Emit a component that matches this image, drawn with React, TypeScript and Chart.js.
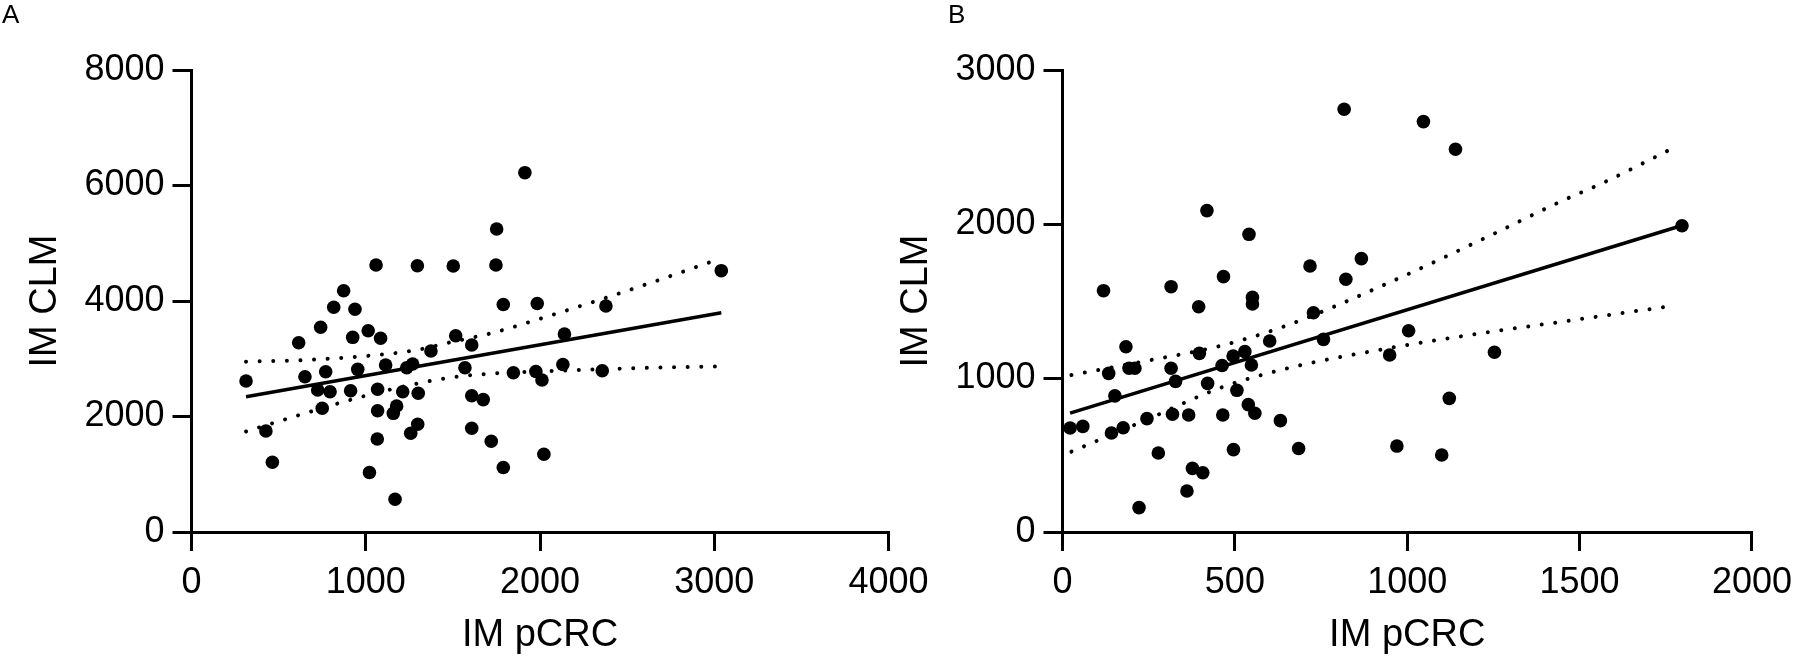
import React, { useEffect, useRef } from "react";
import Chart from "chart.js/auto";

// Panel A — IM pCRC (x) vs IM CLM (y)
const aPcrc = [
  1059, 1296, 1502, 873, 816, 938, 741, 1014, 925, 1085, 615, 1516, 1608, 1374, 313,
  651, 770, 954, 1114, 1235, 1269, 1569, 724, 795, 913, 1068, 1212, 1301, 1608, 750,
  1068, 1177, 1158, 427, 1298, 1258, 1608, 1066, 464, 1021, 1168, 1913, 1751, 1747, 1789,
  1984, 2378, 3040, 2140, 2131, 2357, 1847, 1976, 2011, 1674, 1720, 2022, 1789,
];
const aClm = [
  4623, 4611, 4606, 4178, 3891, 3856, 3545, 3486, 3371, 3354, 3278, 3399, 3238, 3134, 2615,
  2689, 2776, 2817, 2892, 2845, 2909, 2845, 2459, 2429, 2447, 2471, 2429, 2402, 2360, 2142,
  2100, 2182, 2055, 1749, 1865, 1709, 1796, 1610, 1207, 1030, 566, 6222, 5247, 4623, 3939,
  3957, 3913, 4525, 3429, 2900, 2793, 2758, 2779, 2632, 2293, 1572, 1347, 1117,
];
const aFitX = [313, 3040];
const aFitY = [2343, 3795];
const aBandX = [313, 630, 950, 1270, 1500, 1730, 2040, 2270, 2650, 3040];
const aBandUpper = [2950, 2975, 3035, 3140, 3295, 3450, 3730, 3950, 4330, 4740];
const aBandLower = [1740, 2035, 2320, 2555, 2680, 2745, 2785, 2810, 2845, 2870];
const aXTicks = [0, 1000, 2000, 3000, 4000];
const aYTicks = [0, 2000, 4000, 6000, 8000];

// Panel B — IM pCRC (x) vs IM CLM (y)
const bPcrc = [
  419, 119, 315, 467, 395, 184, 397, 134, 193, 210, 315, 328, 463, 421, 152,
  22, 59, 142, 176, 245, 319, 366, 465, 278, 377, 407, 361, 222, 496, 506,
  539, 558, 632, 685, 970, 1100, 1122, 817, 1047, 1140, 541, 718, 867, 822, 551,
  551, 728, 601, 757, 1004, 1253, 495, 529, 548, 949, 1797,
];
const bClm = [
  2087, 1567, 1593, 1658, 1463, 1203, 1160, 1030, 1063, 1063, 1063, 978, 1081, 965, 884,
  675, 686, 643, 677, 736, 765, 760, 760, 513, 413, 385, 266, 158, 535, 920,
  827, 771, 723, 542, 558, 500, 868, 2745, 2665, 2485, 1933, 1727, 1775, 1641, 1524,
  1481, 1424, 1240, 1251, 1307, 1167, 1143, 1171, 1084, 1149, 1989,
];
const bFitX = [22, 1797];
const bFitY = [772, 1990];
const bBandX = [26, 246, 457, 647, 943, 1234, 1451, 1565, 1776];
const bBandUpper = [1019, 1112, 1208, 1338, 1615, 1918, 2152, 2264, 2498];
const bBandLower = [522, 731, 935, 1060, 1192, 1297, 1366, 1403, 1470];
const bXTicks = [0, 500, 1000, 1500, 2000];
const bYTicks = [0, 1000, 2000, 3000];

const FONT = "'Liberation Sans', Arial, Helvetica, sans-serif";
const H = 658;

const pts = (xs: number[], ys: number[]) => xs.map((x, i) => ({ x, y: ys[i] }));

interface PanelProps {
  xs: number[];
  ys: number[];
  fitX: number[];
  fitY: number[];
  bandX: number[];
  upper: number[];
  lower: number[];
  xTicks: number[];
  yTicks: number[];
  left: number;
  width: number;
  padLeft: number;
  padRight: number;
}

const ScatterPanel: React.FC<PanelProps> = (p) => {
  const canvasRef = useRef<HTMLCanvasElement | null>(null);

  useEffect(() => {
    if (!canvasRef.current) return;

    const dotted = {
      showLine: true,
      borderColor: "#000",
      borderWidth: 4,
      borderDash: [0.01, 13.6],
      borderCapStyle: "round" as const,
      pointRadius: 0,
      cubicInterpolationMode: "monotone" as const,
      clip: false as const,
    };

    const axisCommon = {
      type: "linear" as const,
      border: { display: true, color: "#000", width: 3 },
      grid: {
        display: true,
        drawOnChartArea: false,
        drawTicks: true,
        tickLength: 19,
        color: "#000",
        lineWidth: 3,
      },
    };

    const chart = new Chart(canvasRef.current, {
      type: "scatter",
      data: {
        datasets: [
          {
            data: pts(p.xs, p.ys),
            pointRadius: 6.8,
            pointBackgroundColor: "#000",
            pointBorderColor: "#000",
            pointBorderWidth: 0,
            showLine: false,
            clip: false,
          },
          {
            data: pts(p.fitX, p.fitY),
            showLine: true,
            borderColor: "#000",
            borderWidth: 3.6,
            pointRadius: 0,
            clip: false,
          },
          { data: pts(p.bandX, p.upper), ...dotted },
          { data: pts(p.bandX, p.lower), ...dotted },
        ],
      },
      options: {
        animation: false,
        responsive: false,
        maintainAspectRatio: false,
        layout: { padding: { left: p.padLeft, right: p.padRight, top: 70, bottom: 0 } },
        plugins: { legend: { display: false }, tooltip: { enabled: false } },
        scales: {
          x: {
            ...axisCommon,
            min: p.xTicks[0],
            max: p.xTicks[p.xTicks.length - 1],
            afterBuildTicks: (scale: any) => {
              scale.ticks = p.xTicks.map((v) => ({ value: v }));
            },
            afterFit: (scale: any) => {
              scale.height = H - 532;
            },
            ticks: {
              color: "#000",
              font: { family: FONT, size: 36 },
              padding: 10,
              maxRotation: 0,
              callback: (v: any) => String(v),
            },
            title: {
              display: true,
              text: "IM pCRC",
              color: "#000",
              font: { family: FONT, size: 38 },
              padding: { top: 0, bottom: 0 },
            },
          },
          y: {
            ...axisCommon,
            min: p.yTicks[0],
            max: p.yTicks[p.yTicks.length - 1],
            afterBuildTicks: (scale: any) => {
              scale.ticks = p.yTicks.map((v) => ({ value: v }));
            },
            afterFit: (scale: any) => {
              scale.width = 181.5;
            },
            ticks: {
              color: "#000",
              font: { family: FONT, size: 36 },
              padding: 8,
              callback: (v: any) => String(v),
            },
            title: {
              display: true,
              text: "IM CLM",
              color: "#000",
              font: { family: FONT, size: 38 },
              padding: { top: 13.2, bottom: 0 },
            },
          },
        },
      },
    });

    return () => chart.destroy();
  }, [p]);

  return (
    <canvas
      ref={canvasRef}
      width={p.width}
      height={H}
      style={{ position: "absolute", left: p.left, top: 0, width: p.width, height: H }}
    />
  );
};

const labelStyle: React.CSSProperties = {
  position: "absolute",
  top: 1,
  fontFamily: FONT,
  fontSize: 26,
  lineHeight: "26px",
  color: "#000",
};

export default function App() {
  return (
    <div style={{ position: "absolute", left: 0, top: 0, width: 1802, height: H, background: "#fff" }}>
      <ScatterPanel
        xs={aPcrc}
        ys={aClm}
        fitX={aFitX}
        fitY={aFitY}
        bandX={aBandX}
        upper={aBandUpper}
        lower={aBandLower}
        xTicks={aXTicks}
        yTicks={aYTicks}
        left={0}
        width={940}
        padLeft={10}
        padRight={51.4}
      />
      <ScatterPanel
        xs={bPcrc}
        ys={bClm}
        fitX={bFitX}
        fitY={bFitY}
        bandX={bBandX}
        upper={bBandUpper}
        lower={bBandLower}
        xTicks={bXTicks}
        yTicks={bYTicks}
        left={880}
        width={922}
        padLeft={1}
        padRight={44}
      />
      <div style={{ ...labelStyle, left: 2 }}>A</div>
      <div style={{ ...labelStyle, left: 948 }}>B</div>
    </div>
  );
}
